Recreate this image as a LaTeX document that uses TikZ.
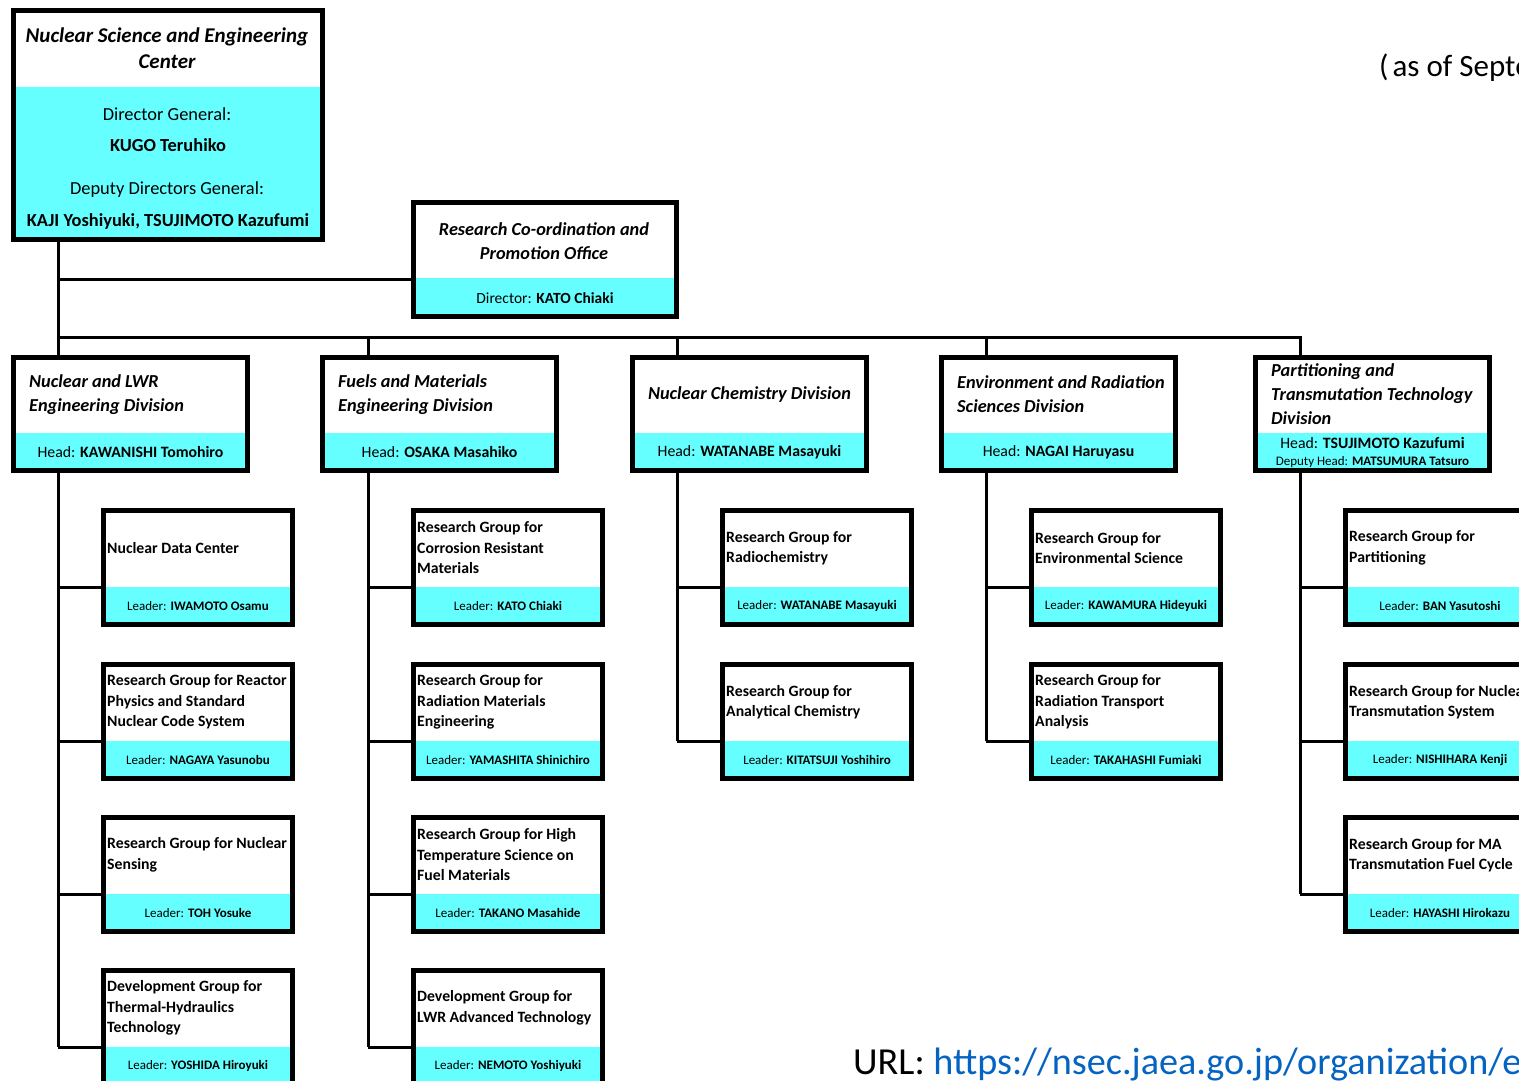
\documentclass[tikz,border=0pt]{standalone}
\usepackage{fontspec}
\setmainfont{Carlito}

\definecolor{headcyan}{RGB}{102,255,255}
\definecolor{urlblue}{RGB}{5,99,193}

\tikzset{
  orgbox/.style={draw, line width=5pt, fill=white, inner sep=0pt, outer sep=0pt, anchor=north west,
    path picture={\fill[headcyan] (path picture bounding box.south west) rectangle ([yshift=#1]path picture bounding box.south east);}},
  grpframe/.style={orgbox=37.5pt, minimum width=189pt, minimum height=114pt},
  divframe/.style={orgbox=37.5pt, minimum width=234pt, minimum height=113pt},
  grptitle/.style={font=\fontsize{15.75}{20.5}\selectfont\bfseries, align=left, anchor=west, inner sep=0pt},
  leadtext/.style={font=\fontsize{13}{15}\selectfont, inner sep=0pt},
  divtitle/.style={font=\fontsize{18.3}{24}\selectfont\bfseries\itshape, align=left, anchor=west, inner sep=0pt},
  headtext/.style={font=\fontsize{15.8}{18}\selectfont, inner sep=0pt},
  toptext/.style={font=\fontsize{18.4}{21}\selectfont, inner sep=0pt},
  topname/.style={font=\fontsize{18.4}{21}\selectfont\bfseries, inner sep=0pt},
  link/.style={line width=3pt}
}

% group box: name, x, y, title, leader
\newcommand{\grpbox}[5]{%
  \node[grpframe] (#1) at (#2,#3) {};
  \node[grptitle] (#1-t) at ([xshift=3.5pt,yshift=19.5pt]#1.west) {#4};
  \node[leadtext] (#1-l) at ([yshift=18.5pt]#1.south) {Leader: \textbf{#5}};
  \coordinate (#1-in) at ([yshift=37.5pt]#1.south west);
}

\begin{document}
\begin{tikzpicture}[x=1pt,y=-1pt]
  \useasboundingbox (0,0) rectangle (1519,1081);
  \clip (0,0) rectangle (1519,1081);

  % center
  \node[orgbox=152.5pt, minimum width=309pt, minimum height=229pt] (nsec) at (13.5,10.5) {};
  \node[font=\fontsize{21}{26}\selectfont\bfseries\itshape, align=center, inner sep=0pt] (nsec-t) at (167,48) {Nuclear Science and Engineering\\Center};
  \node[toptext] (dg) at (167,114) {Director General:};
  \node[topname] (dg-n) at (168,145) {KUGO Teruhiko};
  \node[toptext] (ddg) at (167,190) {Deputy Directors General:};
  \node[topname] (ddg-n) at (168,221) {KAJI Yoshiyuki, TSUJIMOTO Kazufumi};

  % office
  \node[orgbox=38.5pt, minimum width=263pt, minimum height=114pt] (rcpo) at (413.5,202.5) {};
  \node[font=\fontsize{18.3}{24}\selectfont\bfseries\itshape, align=center, inner sep=0pt] (rcpo-t) at (544,241) {Research Co-ordination and\\Promotion Office};
  \node[font=\fontsize{15.5}{18}\selectfont, inner sep=0pt] (rcpo-d) at (545,298) {Director: \textbf{KATO Chiaki}};
  \coordinate (rcpo-in) at ([yshift=37.5pt]rcpo.south west);

  % divisions
  \node[divframe] (d1) at (13.5,357.5) {};
  \node[divtitle] (d1-t) at ([xshift=15.5pt,yshift=19.5pt]d1.west) {Nuclear and LWR\\Engineering Division};
  \node[headtext] (d1-h) at ([yshift=18.5pt]d1.south) {Head: \textbf{KAWANISHI Tomohiro}};

  \node[divframe] (d2) at (322.5,357.5) {};
  \node[divtitle] (d2-t) at ([xshift=15.5pt,yshift=19.5pt]d2.west) {Fuels and Materials\\Engineering Division};
  \node[headtext] (d2-h) at ([yshift=18.5pt]d2.south) {Head: \textbf{OSAKA Masahiko}};

  \node[divframe] (d3) at (632.5,357.5) {};
  \node[divtitle, anchor=center] (d3-t) at ([yshift=19.5pt]d3.center) {Nuclear Chemistry Division};
  \node[headtext] (d3-h) at ([yshift=18.5pt]d3.south) {Head: \textbf{WATANABE Masayuki}};

  \node[divframe] (d4) at (941.5,357.5) {};
  \node[divtitle] (d4-t) at ([xshift=15.5pt,yshift=19.5pt]d4.west) {Environment and Radiation\\Sciences Division};
  \node[headtext] (d4-h) at ([yshift=18.5pt]d4.south) {Head: \textbf{NAGAI Haruyasu}};

  \node[divframe] (d5) at (1255.5,357.5) {};
  \node[divtitle] (d5-t) at ([xshift=15.5pt,yshift=19.5pt]d5.west) {Partitioning and\\Transmutation Technology\\Division};
  \node[headtext] (d5-h) at ([yshift=27.5pt]d5.south) {Head: \textbf{TSUJIMOTO Kazufumi}};
  \node[font=\fontsize{13}{15}\selectfont, inner sep=0pt] (d5-dh) at ([yshift=8.5pt]d5.south) {Deputy Head: \textbf{MATSUMURA Tatsuro}};

  % groups
  \grpbox{g11}{103.5}{510.5}{Nuclear Data Center}{IWAMOTO Osamu}
  \grpbox{g12}{103.5}{664.5}{Research Group for Reactor\\Physics and Standard\\Nuclear Code System}{NAGAYA Yasunobu}
  \grpbox{g13}{103.5}{817.5}{Research Group for Nuclear\\Sensing}{TOH Yosuke}
  \grpbox{g14}{103.5}{970.5}{Development Group for\\Thermal-Hydraulics\\Technology}{YOSHIDA Hiroyuki}

  \grpbox{g21}{413.5}{510.5}{Research Group for\\Corrosion Resistant\\Materials}{KATO Chiaki}
  \grpbox{g22}{413.5}{664.5}{Research Group for\\Radiation Materials\\Engineering}{YAMASHITA Shinichiro}
  \grpbox{g23}{413.5}{817.5}{Research Group for High\\Temperature Science on\\Fuel Materials}{TAKANO Masahide}
  \grpbox{g24}{413.5}{970.5}{Development Group for\\LWR Advanced Technology}{NEMOTO Yoshiyuki}

  \grpbox{g31}{722.5}{510.5}{Research Group for\\Radiochemistry}{WATANABE Masayuki}
  \grpbox{g32}{722.5}{664.5}{Research Group for\\Analytical Chemistry}{KITATSUJI Yoshihiro}

  \grpbox{g41}{1031.5}{510.5}{Research Group for\\Environmental Science}{KAWAMURA Hideyuki}
  \grpbox{g42}{1031.5}{664.5}{Research Group for\\Radiation Transport\\Analysis}{TAKAHASHI Fumiaki}

  \grpbox{g51}{1345.5}{510.5}{Research Group for\\Partitioning}{BAN Yasutoshi}
  \grpbox{g52}{1345.5}{664.5}{Research Group for Nuclear\\Transmutation System}{NISHIHARA Kenji}
  \grpbox{g53}{1345.5}{817.5}{Research Group for MA\\Transmutation Fuel Cycle}{HAYASHI Hirokazu}

  % lines
  \coordinate (c1) at (58,0);
  \coordinate (c2) at (368,0);
  \coordinate (c3) at (677,0);
  \coordinate (c4) at (986,0);
  \coordinate (c5) at (1300,0);
  \coordinate (bus) at (58,337);
  \draw[link] (nsec.south -| c1) -- (d1.north -| c1);
  \draw[link] (rcpo-in) -- (rcpo-in -| c1);
  \draw[link] (bus) -| (c5 |- d5.north);
  \foreach \c/\d in {c2/d2,c3/d3,c4/d4}
    \draw[link] (bus -| \c) -- (\c |- \d.north);

  \draw[link] (d1.south -| c1) -- (g14-in -| c1);
  \draw[link] (d2.south -| c2) -- (g24-in -| c2);
  \draw[link] (d3.south -| c3) -- (g32-in -| c3);
  \draw[link] (d4.south -| c4) -- (g42-in -| c4);
  \draw[link] (d5.south -| c5) -- (g53-in -| c5);
  \foreach \g in {g11,g12,g13,g14} \draw[link] (\g-in) -- (\g-in -| c1);
  \foreach \g in {g21,g22,g23,g24} \draw[link] (\g-in) -- (\g-in -| c2);
  \foreach \g in {g31,g32} \draw[link] (\g-in) -- (\g-in -| c3);
  \foreach \g in {g41,g42} \draw[link] (\g-in) -- (\g-in -| c4);
  \foreach \g in {g51,g52,g53} \draw[link] (\g-in) -- (\g-in -| c5);

  % notes
  \node[font=\fontsize{31}{34}\selectfont, anchor=west, inner sep=0pt] (date) at (1379,68) {(\hspace{4pt}as of September};
  \node[font=\fontsize{38.2}{41}\selectfont, anchor=west, inner sep=0pt] (url) at (853,1065) {URL: \textcolor{urlblue}{https://nsec.jaea.go.jp/organization/en}};
\end{tikzpicture}
\end{document}
